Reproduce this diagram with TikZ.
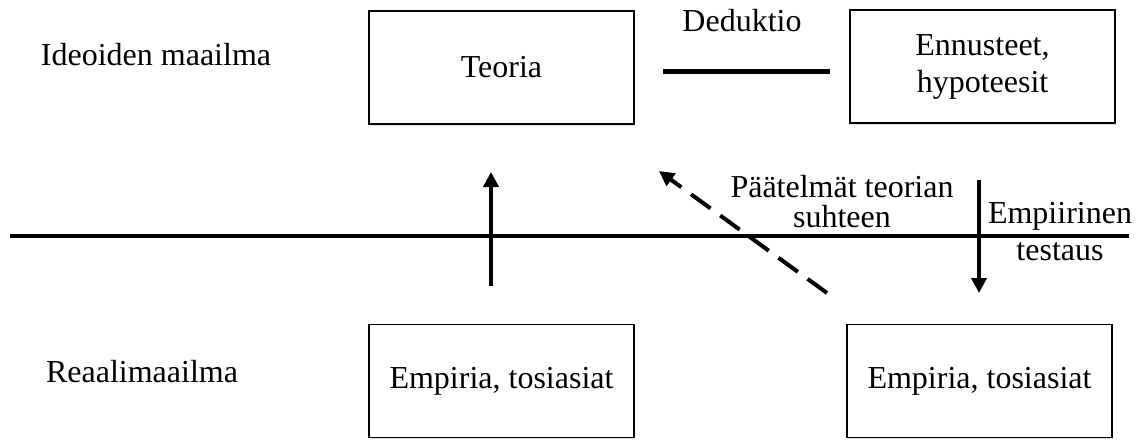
\documentclass[tikz,border=0pt]{standalone}
\usepackage{fontspec}
\setmainfont{Liberation Serif}
\usetikzlibrary{arrows.meta,shadows}
\begin{document}
\begin{tikzpicture}[x=0.5pt,y=-0.5pt,
  every node/.style={font=\fontsize{16}{18.5}\selectfont, inner sep=0pt},
  box/.style={draw, line width=0.75pt, fill=white, minimum width=132.5pt, minimum height=56.5pt, align=center,
    drop shadow={opacity=0.25, shadow xshift=0.6pt, shadow yshift=-0.8pt}},
  lbl/.style={anchor=base, align=center},
  arr/.style={line width=2pt, -{Triangle[length=7.5pt,width=7.5pt]}},
  dasharr/.style={line width=2pt, dash pattern=on 12pt off 6pt, -{Triangle[length=7.5pt,width=7.5pt]}},
]
\useasboundingbox (0,0) rectangle (1138,439);
% labels
\node[lbl] (ideat) at (156,65) {Ideoiden maailma};
\node[lbl] (reaali) at (142,382) {Reaalimaailma};
\node[lbl] (dedtxt) at (742,32) {Deduktio};
% boxes
\node[box] (teoria) at (501.5,67.5) {Teoria};
\node[box] (ennuste) at (982.5,66.5) {Ennusteet,\\hypoteesit};
\node[box] (emp1) at (501.5,381) {Empiria, tosiasiat};
\node[box] (emp2) at (979.5,381) {Empiria, tosiasiat};
% deduktio line
\coordinate (d1) at (663,71);
\coordinate (d2) at (830,71);
\draw[line width=2.5pt] (d1) -- (d2);
% horizon line
\coordinate (h1) at (10,236);
\coordinate (h2) at (1129,236);
\draw[line width=1.75pt] (h1) -- (h2);
% arrows
\coordinate (u1) at (491,286);
\coordinate (u2) at (491,172);
\draw[arr] (u1) -- (u2);
\coordinate (t1) at (827,293);
\coordinate (t2) at (659,171);
\draw[dasharr] (t1) -- (t2);
\coordinate (e1) at (979,180);
\coordinate (e2) at (979,293);
\draw[arr] (e1) -- (e2);
% texts
\node[lbl] (pt1) at (842,197) {Päätelmät teorian};
\node[lbl] (pt2) at (842,227) {suhteen};
\node[lbl] (et1) at (1060,223) {Empiirinen};
\node[lbl] (et2) at (1060,260) {testaus};
\end{tikzpicture}
\end{document}
